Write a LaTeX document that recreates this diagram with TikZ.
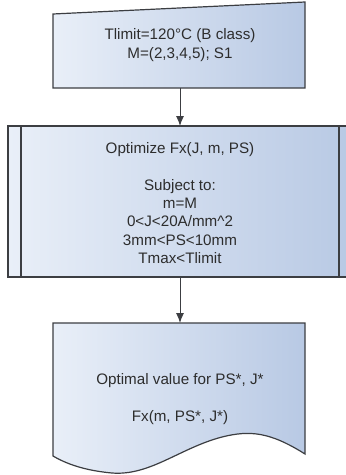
\documentclass[tikz,border=0pt]{standalone}
\usepackage{fontspec}
\setmainfont{Liberation Sans}
\usetikzlibrary{arrows.meta}
\definecolor{fillL}{RGB}{233,239,248}
\definecolor{fillR}{RGB}{184,201,228}
\definecolor{edge}{RGB}{60,62,66}
\definecolor{txt}{RGB}{45,45,45}
\tikzset{
  boxshape/.style={draw=edge, line width=1.2pt, left color=fillL, right color=fillR},
  label/.style={align=center, text=txt, font=\fontsize{15.2}{18.3}\selectfont, inner sep=0pt},
  flow/.style={draw=edge, line width=1pt, -{Latex[length=10pt,width=8pt]}}
}
\begin{document}
\begin{tikzpicture}[x=1pt,y=-1pt]
\useasboundingbox (0,0) rectangle (346,475);
\clip (0,0) rectangle (346,475);
% top: manual input
\draw[boxshape] (53,14) -- (305,2) -- (305,88) -- (53,88) -- cycle;
\coordinate (inB) at (180,88);
\node[label] (inT) at (180,45) {Tlimit=120°C (B class)\\M=(2,3,4,5); S1};
% middle: predefined process
\draw[boxshape] (8,126) rectangle (352,277);
\draw[draw=edge, line width=1.2pt] (21,126) -- (21,277);
\draw[draw=edge, line width=1.2pt] (339,126) -- (339,277);
\coordinate (prT) at (180,126);
\coordinate (prB) at (180,277);
\node[label] (prTxt) at (180,203) {Optimize Fx(J, m, PS)\\[18.3pt]Subject to:\\m=M\\0<J<20A/mm\^{}2\\3mm<PS<10mm\\Tmax<Tlimit};
% bottom: document
\draw[boxshape] (53,456) -- (53,323) -- (305,323) -- (305,454)
  .. controls (270,432) and (250,430) .. (222,437)
  .. controls (180,448) and (150,476) .. (112,473)
  .. controls (90,471) and (70,466) .. (53,456) -- cycle;
\coordinate (docT) at (180,323);
\node[label] (docTxt) at (180,399) {Optimal value for PS*, J*\\[19pt]Fx(m, PS*, J*)};
% connectors
\draw[flow] (inB) -- (prT);
\draw[flow] (prB) -- (docT);
\end{tikzpicture}
\end{document}
